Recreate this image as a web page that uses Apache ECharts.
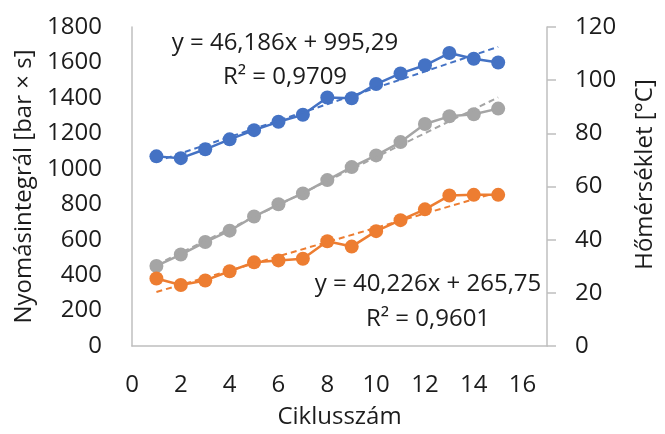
<!DOCTYPE html>
<html>
<head>
<meta charset="utf-8">
<script src="https://cdn.jsdelivr.net/npm/echarts@6/dist/echarts.min.js"></script>
<style>
html,body{margin:0;padding:0;background:#fff;}
#chart{width:665px;height:434px;}
</style>
</head>
<body>
<div id="chart"></div>
<script>
// ---- data ----
const cycles = [1, 2, 3, 4, 5, 6, 7, 8, 9, 10, 11, 12, 13, 14, 15];
const pressureBlue = [1070, 1060, 1110, 1166, 1218, 1265, 1305, 1402, 1398, 1478, 1538, 1584, 1653, 1621, 1600];
const pressureOrange = [381, 344, 370, 422, 472, 483, 492, 591, 561, 648, 710, 771, 849, 853, 853];
const temperature = [30.1, 34.4, 39.1, 43.4, 48.7, 53.3, 57.4, 62.4, 67.3, 71.7, 76.7, 83.5, 86.4, 87.2, 89.3];
const leftTicks = { min: 0, max: 1800, interval: 200 };
const rightTicks = { min: 0, max: 120, interval: 20 };
const xTicks = { min: 0, max: 17, interval: 2 };
const blueTrendText = ['y = 46,186x + 995,29', 'R² = 0,9709'];
const orangeTrendText = ['y = 40,226x + 265,75', 'R² = 0,9601'];
const axisNames = { x: 'Ciklusszám', left: 'Nyomásintegrál [bar × s]', right: 'Hőmérséklet [°C]' };

const COLORS = { blue: '#4472C4', orange: '#ED7D31', gray: '#A5A5A5' };
const FONT = 'Open Sans';
const FS = 24;
const TXT = '#1c1c1c';
const AXIS = '#BFBFBF';
const plain = v => String(v);

function pairs(xs, ys) { return xs.map((x, i) => [x, ys[i]]); }
function trend(xs, ys) {
  const n = xs.length;
  const mx = xs.reduce((a, b) => a + b, 0) / n;
  const my = ys.reduce((a, b) => a + b, 0) / n;
  let sxy = 0, sxx = 0;
  for (let i = 0; i < n; i++) { sxy += (xs[i] - mx) * (ys[i] - my); sxx += (xs[i] - mx) ** 2; }
  const b = sxy / sxx, a = my - b * mx;
  const x0 = xs[0], x1 = xs[n - 1];
  return [[x0, a + b * x0], [x1, a + b * x1]];
}

function dataSeries(name, ys, color, yIdx) {
  return {
    name, type: 'line', yAxisIndex: yIdx, data: pairs(cycles, ys),
    symbol: 'circle', symbolSize: 14, z: 3,
    lineStyle: { color, width: 2.5 },
    itemStyle: { color },
    animation: false
  };
}
function trendSeries(name, ys, color, yIdx) {
  return {
    name, type: 'line', yAxisIndex: yIdx, data: trend(cycles, ys),
    symbol: 'none', z: 4,
    lineStyle: { color, width: 2, type: [6, 4] },
    animation: false
  };
}

const chart = echarts.init(document.getElementById('chart'));
chart.setOption({
  animation: false,
  backgroundColor: '#fff',
  grid: { left: 132, right: 107, top: 27, bottom: 85 },
  xAxis: {
    type: 'value', min: xTicks.min, max: xTicks.max, interval: xTicks.interval,
    name: axisNames.x, nameLocation: 'middle', nameGap: 59,
    nameTextStyle: { fontFamily: FONT, fontSize: FS, color: TXT },
    axisLine: { show: true, lineStyle: { color: AXIS, width: 1.5 } },
    axisTick: { show: false },
    splitLine: { show: false },
    axisLabel: { fontFamily: FONT, fontSize: FS, color: TXT, margin: 27, showMaxLabel: false, formatter: plain }
  },
  yAxis: [
    {
      type: 'value', position: 'left', min: leftTicks.min, max: leftTicks.max, interval: leftTicks.interval,
      name: axisNames.left, nameLocation: 'middle', nameGap: 95,
      nameTextStyle: { fontFamily: FONT, fontSize: FS, color: TXT },
      axisLine: { show: true, lineStyle: { color: AXIS, width: 1.5 } },
      axisTick: { show: false },
      splitLine: { show: false },
      axisLabel: { fontFamily: FONT, fontSize: FS, color: TXT, margin: 30, formatter: plain }
    },
    {
      type: 'value', position: 'right', min: rightTicks.min, max: rightTicks.max, interval: rightTicks.interval,
      name: axisNames.right, nameLocation: 'middle', nameGap: 86, nameRotate: 90,
      nameTextStyle: { fontFamily: FONT, fontSize: FS, color: TXT, padding: [0, 0, 0, 24] },
      axisLine: { show: true, lineStyle: { color: AXIS, width: 1.5 } },
      axisTick: { show: true, inside: false, length: 9, lineStyle: { color: AXIS, width: 1.5 } },
      splitLine: { show: false },
      axisLabel: { fontFamily: FONT, fontSize: FS, color: TXT, margin: 28, formatter: plain }
    }
  ],
  series: [
    dataSeries('Nyomásintegrál 1', pressureBlue, COLORS.blue, 0),
    dataSeries('Hőmérséklet', temperature, COLORS.gray, 1),
    dataSeries('Nyomásintegrál 2', pressureOrange, COLORS.orange, 0),
    trendSeries('Trend 1', pressureBlue, COLORS.blue, 0),
    trendSeries('Trend T', temperature, COLORS.gray, 1),
    trendSeries('Trend 2', pressureOrange, COLORS.orange, 0)
  ],
  graphic: [
    { type: 'text', x: 285, y: 60, z: 10,
      style: { text: blueTrendText.join('\n'), fontFamily: FONT, fontSize: FS, fill: TXT,
               align: 'center', verticalAlign: 'middle', lineHeight: 34 } },
    { type: 'text', x: 428, y: 302, z: 10,
      style: { text: orangeTrendText.join('\n'), fontFamily: FONT, fontSize: FS, fill: TXT,
               align: 'center', verticalAlign: 'middle', lineHeight: 35 } }
  ]
});
</script>
</body>
</html>
